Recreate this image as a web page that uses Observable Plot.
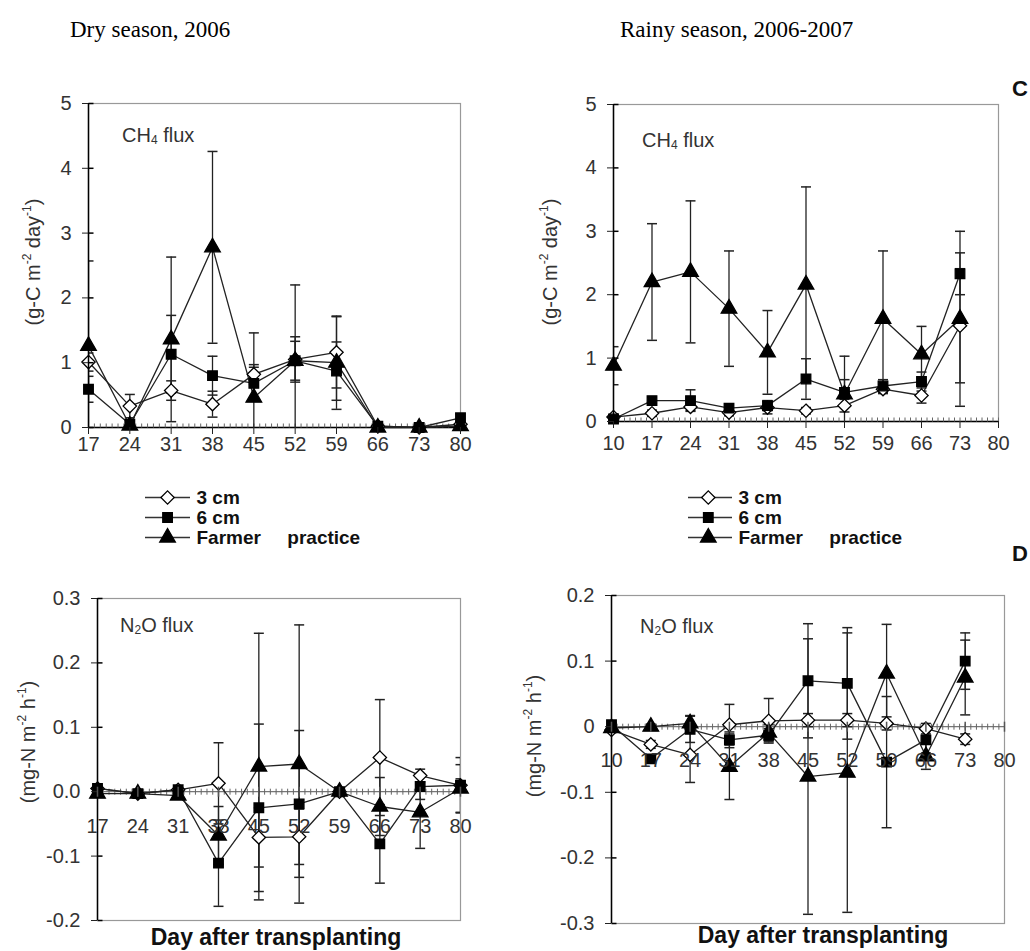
<!DOCTYPE html>
<html><head><meta charset="utf-8">
<script src="https://cdn.jsdelivr.net/npm/d3@7"></script>
<script src="https://cdn.jsdelivr.net/npm/@observablehq/plot@0.6"></script>
<style>
body{margin:0;background:#fff;width:1030px;height:951px;position:relative;overflow:hidden;font-family:"Liberation Sans",Arial,sans-serif;color:#222}
.title{position:absolute;font-family:"Liberation Serif","Times New Roman",serif;font-size:23px;line-height:1;color:#000;white-space:nowrap}
.ytitle{position:absolute;transform:translate(-50%,-50%) rotate(-90deg);font-size:20px;line-height:1;white-space:nowrap;color:#333}
.ann{position:absolute;font-size:20px;line-height:1;color:#333;white-space:nowrap}
.xtitle{position:absolute;transform:translateX(-50%);font-size:23px;line-height:1;font-weight:bold;white-space:nowrap;color:#111}
.tag{position:absolute;font-size:22px;line-height:1;font-weight:bold;color:#111}
sup{font-size:0.6em;vertical-align:0.75em;line-height:0}
sub{font-size:0.6em;vertical-align:-0.2em;line-height:0}
</style></head><body>
<div class="title" style="left:70px;top:18px">Dry season, 2006</div>
<div class="title" style="left:620px;top:18px">Rainy season, 2006-2007</div>
<div class="tag" style="left:1012px;top:78px">C</div>
<div class="tag" style="left:1012px;top:543px">D</div>
<div class="ann" style="left:122px;top:125px">CH<sub>4</sub> flux</div>
<div class="ann" style="left:642px;top:130px">CH<sub>4</sub> flux</div>
<div class="ann" style="left:120px;top:615px">N<sub>2</sub>O flux</div>
<div class="ann" style="left:640px;top:616px">N<sub>2</sub>O flux</div>
<div class="ytitle" style="left:33px;top:262px">(g-C m<sup>-2</sup> day<sup>-1</sup>)</div>
<div class="ytitle" style="left:550px;top:262px">(g-C m<sup>-2</sup> day<sup>-1</sup>)</div>
<div class="ytitle" style="left:28px;top:742px">(mg-N m<sup>-2</sup> h<sup>-1</sup>)</div>
<div class="ytitle" style="left:534px;top:736px">(mg-N m<sup>-2</sup> h<sup>-1</sup>)</div>
<div class="xtitle" style="left:276px;top:926px">Day after transplanting</div>
<div class="xtitle" style="left:823px;top:924px">Day after transplanting</div>
<script>
// ---------- data ----------
const seriesNames = ["3 cm", "6 cm", "Farmer practice"];
const legendLabels = ["3 cm", "6 cm", "Farmer\u00a0\u00a0\u00a0\u00a0\u00a0practice"];

const daysDry = [17, 24, 31, 38, 45, 52, 59, 66, 73, 80];
const ticksDry = [17, 24, 31, 38, 45, 52, 59, 66, 73, 80];
const daysRainy = [10, 17, 24, 31, 38, 45, 52, 59, 66, 73];
const ticksRainy = [10, 17, 24, 31, 38, 45, 52, 59, 66, 73, 80];

// A: CH4 flux, dry season (g-C m-2 day-1)
const chDry3 = [1.01, 0.33, 0.57, 0.36, 0.82, 1.05, 1.16, 0.02, 0.00, 0.05];
const chDry3Err = [0.14, 0.18, 0.15, 0.20, 0.15, 0.35, 0.55, 0.02, 0.01, 0.03];
const chDry6 = [0.59, 0.05, 1.13, 0.80, 0.68, 1.03, 0.87, 0.02, 0.00, 0.15];
const chDry6Err = [0.20, 0.05, 0.60, 0.30, 0.25, 0.30, 0.45, 0.02, 0.01, 0.06];
const chDryF = [1.26, 0.03, 1.36, 2.78, 0.46, 1.03, 1.00, 0.00, 0.00, 0.02];
const chDryFErr = [1.31, 0.05, 1.27, 1.48, 1.00, 1.17, 0.72, 0.01, 0.01, 0.02];

// B: CH4 flux, rainy season
const chRain3 = [0.07, 0.13, 0.23, 0.14, 0.22, 0.17, 0.25, 0.51, 0.41, 1.51];
const chRain3Err = [0.05, 0.05, 0.06, 0.05, 0.10, 0.05, 0.10, 0.07, 0.12, 0.90];
const chRain6 = [0.04, 0.33, 0.33, 0.21, 0.25, 0.67, 0.46, 0.56, 0.63, 2.33];
const chRain6Err = [0.03, 0.05, 0.17, 0.05, 0.08, 0.32, 0.20, 0.10, 0.15, 0.33];
const chRainF = [0.88, 2.20, 2.36, 1.78, 1.09, 2.16, 0.43, 1.62, 1.06, 1.62];
const chRainFErr = [0.30, 0.92, 1.12, 0.91, 0.66, 1.54, 0.60, 1.07, 0.44, 1.38];

// C: N2O flux, dry season (mg-N m-2 h-1)
const nDry3 = [0.005, -0.003, 0.003, 0.013, -0.071, -0.070, 0.000, 0.053, 0.025, 0.010];
const nDry3Err = [0.003, 0.003, 0.003, 0.063, 0.046, 0.043, 0.005, 0.090, 0.010, 0.010];
const nDry6 = [0.005, -0.003, 0.003, -0.111, -0.025, -0.019, 0.000, -0.081, 0.008, 0.010];
const nDry6Err = [0.003, 0.003, 0.003, 0.067, 0.130, 0.114, 0.005, 0.061, 0.020, 0.043];
const nDryF = [-0.003, -0.003, -0.006, -0.068, 0.039, 0.043, 0.000, -0.023, -0.032, 0.005];
const nDryFErr = [0.003, 0.003, 0.004, 0.045, 0.207, 0.216, 0.005, 0.045, 0.056, 0.037];

// D: N2O flux, rainy season
const nRain3 = [-0.005, -0.027, -0.043, 0.003, 0.009, 0.010, 0.010, 0.005, -0.003, -0.019];
const nRain3Err = [0.004, 0.006, 0.042, 0.031, 0.034, 0.010, 0.010, 0.010, 0.008, 0.008];
const nRain6 = [0.003, -0.049, -0.004, -0.020, -0.013, 0.070, 0.066, -0.054, -0.020, 0.100];
const nRain6Err = [0.003, 0.004, 0.020, 0.012, 0.010, 0.087, 0.085, 0.100, 0.020, 0.043];
const nRainF = [-0.002, 0.000, 0.005, -0.061, -0.009, -0.076, -0.070, 0.081, -0.045, 0.075];
const nRainFErr = [0.003, 0.004, 0.012, 0.050, 0.012, 0.210, 0.213, 0.075, 0.020, 0.057];

const yTicksCH4 = [0, 1, 2, 3, 4, 5];
const yTicksNDry = [-0.2, -0.1, 0.0, 0.1, 0.2, 0.3];
const yTicksNRain = [-0.3, -0.2, -0.1, 0, 0.1, 0.2];

// ---------- helpers ----------
const FONT = "'Liberation Sans', Arial, sans-serif";
const capSym = {draw(ctx) { ctx.moveTo(-5, 0); ctx.lineTo(5, 0); }};
const minorUp = {draw(ctx) { ctx.moveTo(0, 0); ctx.lineTo(0, -4); }};
const minorCross = {draw(ctx) { ctx.moveTo(0, -3); ctx.lineTo(0, 3); }};
const majorCross = {draw(ctx) { ctx.moveTo(0, -5); ctx.lineTo(0, 5); }};
const yTickIn = {draw(ctx) { ctx.moveTo(0, 0); ctx.lineTo(5, 0); }};

const styles = [
  {symbol: "diamond2", fill: "white", r: 6},
  {symbol: "square", fill: "black", r: 5.4},
  {symbol: "triangle", fill: "black", r: 5.8}
];

function panel(cfg) {
  const sets = [[cfg.s3, cfg.e3], [cfg.s6, cfg.e6], [cfg.sF, cfg.eF]];
  const bySeries = sets.map(([vals, errs], k) =>
    cfg.days.map((d, i) => ({day: d, series: seriesNames[k], v: vals[i], e: errs[i]})));
  const rows = bySeries.flat();
  const minor = d3.range(cfg.xDomain[0], cfg.xDomain[1] + 1);
  const marks = [
    Plot.frame({stroke: "#999", strokeWidth: 1.2}),
    Plot.ruleY([0], {stroke: cfg.topPanel ? "#000" : "#777", strokeWidth: cfg.topPanel ? 1.5 : 1.2}),
    Plot.dot(minor, {x: d => d, y: () => 0, symbol: cfg.topPanel ? minorUp : minorCross, stroke: "#666", fill: "none", strokeWidth: 1}),
    Plot.ruleX(rows, {x: "day", y1: d => d.v - d.e, y2: d => d.v + d.e, stroke: "#222", strokeWidth: 1.3, clip: true}),
    Plot.dot(rows, {x: "day", y: d => d.v + d.e, symbol: capSym, stroke: "#222", fill: "none", strokeWidth: 1.5, clip: true}),
    Plot.dot(rows, {x: "day", y: d => d.v - d.e, symbol: capSym, stroke: "#222", fill: "none", strokeWidth: 1.5, clip: true}),
    Plot.line(rows, {x: "day", y: "v", z: "series", stroke: "#222", strokeWidth: 1.3}),
    ...bySeries.map((data, k) => Plot.dot(data, {x: "day", y: "v", symbol: styles[k].symbol, fill: styles[k].fill, stroke: "#000", strokeWidth: 1.3, r: styles[k].r})),
    Plot.ruleX([cfg.xDomain[0]], {stroke: "#000", strokeWidth: 1.5}),
    Plot.axisY(cfg.yTicks, {tickSize: 6, tickPadding: 11, tickFormat: cfg.yFmt, label: null, fill: "#333", fontSize: 20}),
    Plot.dot(cfg.yTicks, {x: () => cfg.xDomain[0], y: d => d, symbol: yTickIn, stroke: "#000", fill: "none"})
  ];
  if (cfg.topPanel) {
    marks.push(Plot.axisX(cfg.tickDays, {tickSize: 7, tickPadding: cfg.xPad, label: null, fill: "#333", fontSize: 20}));
  } else {
    marks.push(Plot.dot(cfg.tickDays, {x: d => d, y: () => 0, symbol: majorCross, stroke: "#555", fill: "none"}));
    marks.push(Plot.text(cfg.tickDays, {x: d => d, y: () => 0, dy: cfg.xDy, text: d => String(d), fill: "#333", fontSize: 20}));
  }
  const svg = Plot.plot({
    width: cfg.width, height: cfg.height,
    marginLeft: cfg.m[0], marginRight: cfg.m[1], marginTop: cfg.m[2], marginBottom: cfg.m[3],
    x: {domain: cfg.xDomain, label: null, axis: cfg.topPanel ? undefined : null},
    y: {domain: cfg.yDomain, label: null},
    style: {fontSize: "20px", fontFamily: FONT, background: "transparent", overflow: "visible"},
    marks
  });
  svg.style.position = "absolute";
  svg.style.left = cfg.left + "px";
  svg.style.top = cfg.top + "px";
  document.body.appendChild(svg);
}

function legend(cfg) {
  const items = seriesNames.map((s, k) => ({series: s, label: legendLabels[k], k}));
  const svg = Plot.plot({
    width: cfg.width, height: 68,
    marginLeft: 5, marginRight: cfg.width - 5 - cfg.lineLen, marginTop: 13, marginBottom: 15,
    x: {domain: [0, 1], axis: null},
    y: {type: "point", domain: seriesNames, padding: 0, axis: null},
    style: {fontFamily: FONT, background: "transparent", overflow: "visible"},
    marks: [
      Plot.ruleY(items, {y: "series", x1: () => 0, x2: () => 1, stroke: "#333", strokeWidth: 1.3}),
      ...items.map(it => Plot.dot([it], {x: () => cfg.symPos, y: "series", symbol: styles[it.k].symbol, fill: styles[it.k].fill, stroke: "#000", strokeWidth: 1.3, r: styles[it.k].r})),
      Plot.text(items, {x: () => 1, y: "series", text: "label", dx: 6, textAnchor: "start", fontWeight: "bold", fontSize: 19, fill: "#111"})
    ]
  });
  svg.style.position = "absolute";
  svg.style.left = cfg.left + "px";
  svg.style.top = cfg.top + "px";
  document.body.appendChild(svg);
}

const fmt1 = d => d.toFixed(1);
const fmtD = d => (d === 0 ? "0" : d.toFixed(1));

panel({left: 0, top: 90, width: 480, height: 370, m: [88, 20, 13, 33], topPanel: true, xPad: 2,
  days: daysDry, tickDays: ticksDry, xDomain: [17, 80], yDomain: [0, 5], yTicks: yTicksCH4, yFmt: d => String(d),
  s3: chDry3, e3: chDry3Err, s6: chDry6, e6: chDry6Err, sF: chDryF, eF: chDryFErr});
panel({left: 520, top: 90, width: 500, height: 370, m: [93, 22, 14, 39], topPanel: true, xPad: 7,
  days: daysRainy, tickDays: ticksRainy, xDomain: [10, 80], yDomain: [0, 5], yTicks: yTicksCH4, yFmt: d => String(d),
  s3: chRain3, e3: chRain3Err, s6: chRain6, e6: chRain6Err, sF: chRainF, eF: chRainFErr});
panel({left: 0, top: 580, width: 480, height: 360, m: [97, 20, 18, 20], topPanel: false, xDy: 35,
  days: daysDry, tickDays: ticksDry, xDomain: [17, 80], yDomain: [-0.2, 0.3], yTicks: yTicksNDry, yFmt: fmt1,
  s3: nDry3, e3: nDry3Err, s6: nDry6, e6: nDry6Err, sF: nDryF, eF: nDryFErr});
panel({left: 520, top: 580, width: 500, height: 360, m: [91, 16, 15, 17], topPanel: false, xDy: 34,
  days: daysRainy, tickDays: ticksRainy, xDomain: [10, 80], yDomain: [-0.3, 0.2], yTicks: yTicksNRain, yFmt: fmtD,
  s3: nRain3, e3: nRain3Err, s6: nRain6, e6: nRain6Err, sF: nRainF, eF: nRainFErr});

legend({left: 140, top: 484, width: 290, lineLen: 45, symPos: 0.49});
legend({left: 683, top: 484, width: 290, lineLen: 44, symPos: 0.45});
</script>
</body></html>
